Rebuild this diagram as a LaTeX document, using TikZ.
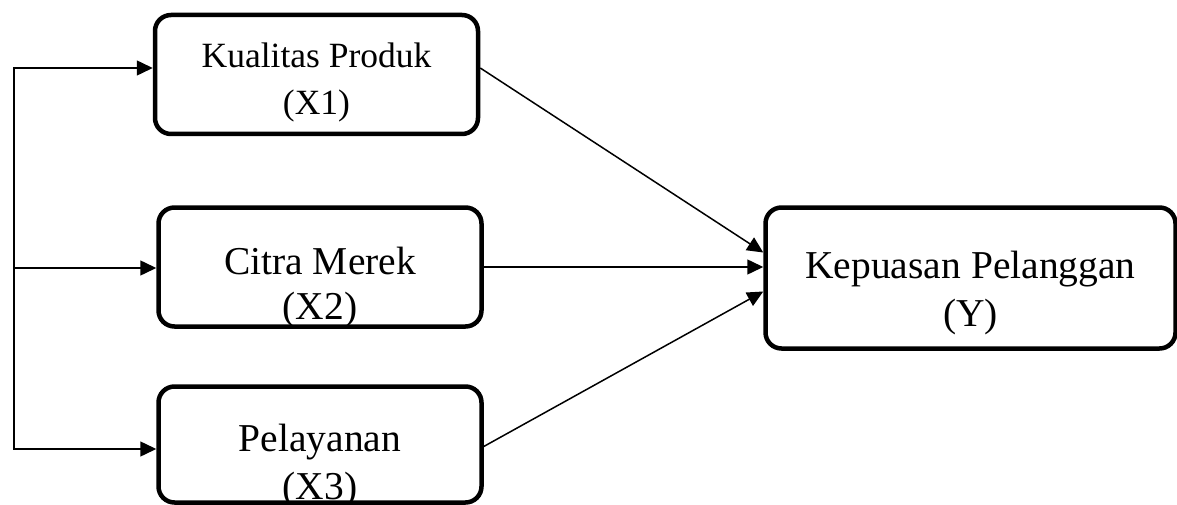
\documentclass[tikz,border=0pt]{standalone}
\usepackage{fontspec}
\setmainfont{Liberation Serif}
\usetikzlibrary{positioning,arrows.meta}

\begin{document}
\begin{tikzpicture}[x=1pt, y=-1pt, line width=1.5pt, >={Triangle[length=16pt,width=15pt]},
  var/.style={draw, line width=4.5pt, rounded corners=16pt, minimum width=323pt, minimum height=119pt, inner sep=0pt, align=center, text depth=0pt, font=\fontsize{39.5}{45}\selectfont}]
  \useasboundingbox (0,0) rectangle (1177,505);
  \node[var, font=\fontsize{35.5}{47}\selectfont, text height=81pt] (x1) at (316.5,74.5) {Kualitas Produk\\(X1)};
  \node[var, text height=105pt, below=69pt of x1, xshift=3.5pt] (x2) {Citra Merek\\(X2)};
  \node[var, font=\fontsize{39.5}{48}\selectfont, minimum height=116pt, text height=110pt, below=55.5pt of x2] (x3) {Pelayanan\\(X3)};
  \node[var, font=\fontsize{39.5}{48}\selectfont, minimum width=410pt, minimum height=141pt, text height=97pt, right=279.5pt of x2, yshift=-11pt] (y) {Kepuasan Pelanggan\\(Y)};

  \coordinate (t1) at (14,68);
  \coordinate (t2) at (14,268);
  \coordinate (t3) at (14,449);
  \draw[<->] (t1 -| x1.west) -- (t1) -- (t3) -- (t3 -| x3.west);
  \draw[->] (t2) -- (t2 -| x2.west);

  \draw[->] ([yshift=6.5pt]x1.east) -- ([yshift=25.5pt]y.west);
  \draw[->] (x2.east) -- (x2.east -| y.west);
  \draw[->] ([yshift=-2pt]x3.east) -- ([yshift=-13.5pt]y.west);
\end{tikzpicture}
\end{document}
